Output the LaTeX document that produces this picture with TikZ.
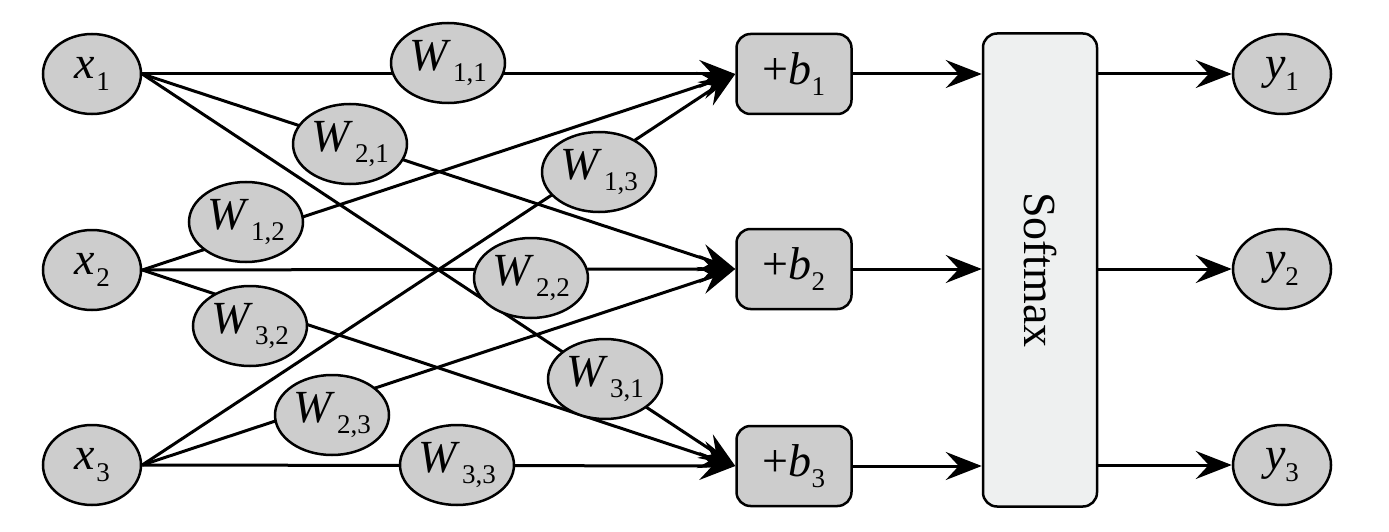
\documentclass[tikz,border=0pt]{standalone}
\usepackage{fontspec}
\setmainfont{Liberation Serif}
\usetikzlibrary{arrows.meta,shapes.geometric}
\definecolor{nodegray}{RGB}{205,205,205}
\definecolor{softfill}{RGB}{238,240,240}
\newcommand\mysub[1]{\raisebox{-0.25em}{\fontsize{27pt}{27pt}\selectfont #1}}
\newcommand\wl[1]{\textit{W}\kern2pt\mysub{#1}}
\begin{document}
\begin{tikzpicture}[x=1pt,y=-1pt,
  ell/.style={ellipse, draw, line width=2.5pt, fill=nodegray, minimum width=98pt,
    minimum height=80pt, inner sep=0pt, font=\fontsize{46pt}{46pt}\selectfont},
  wn/.style={ell, minimum width=114pt},
  bbox/.style={rectangle, rounded corners=14pt, draw, line width=2.5pt, fill=nodegray,
    minimum width=115pt, minimum height=80pt, inner sep=0pt, font=\fontsize{46pt}{46pt}\selectfont},
  softbox/.style={rectangle, rounded corners=14pt, draw, line width=2.5pt, fill=softfill,
    minimum width=114pt, minimum height=473pt, inner sep=0pt, font=\fontsize{46pt}{46pt}\selectfont},
  conn/.style={line width=3pt},
  arr/.style={conn, -{Stealth[length=36pt,width=28pt,inset=13pt]}}]
\useasboundingbox (0,0) rectangle (1389,532);

% inputs
\node[ell] (x1) at (92,74)  {\textit{x}\kern2pt\mysub{1}};
\node[ell] (x2) at (92,270) {\textit{x}\kern2pt\mysub{2}};
\node[ell] (x3) at (92,465) {\textit{x}\kern2pt\mysub{3}};

% bias boxes
\node[bbox] (b1) at (794,74)  {+\textit{b}\mysub{1}};
\node[bbox] (b2) at (794,269) {+\textit{b}\mysub{2}};
\node[bbox] (b3) at (794,466) {+\textit{b}\mysub{3}};

% softmax
\node[softbox] (sm) at (1040,270) {\rotatebox{-90}{Softmax}};

% outputs
\node[ell] (y1) at (1282,74)  {\textit{y}\mysub{1}};
\node[ell] (y2) at (1282,269) {\textit{y}\mysub{2}};
\node[ell] (y3) at (1282,465) {\textit{y}\mysub{3}};

% weighted connections
\foreach \i in {1,2,3}{
  \foreach \j in {1,2,3}{
    \draw[arr] (x\i.east) -- (b\j.west);
  }
}

% weight nodes on the connections
\node[wn] (W11) at (448,63)  {\wl{1,1}};
\node[wn] (W21) at (350,144) {\wl{2,1}};
\node[wn] (W31) at (605,379) {\wl{3,1}};
\node[wn] (W12) at (246,222) {\wl{1,2}};
\node[wn] (W22) at (531,278) {\wl{2,2}};
\node[wn] (W32) at (250,326) {\wl{3,2}};
\node[wn] (W13) at (599,172) {\wl{1,3}};
\node[wn] (W23) at (332,415) {\wl{2,3}};
\node[wn] (W33) at (457,465) {\wl{3,3}};

% bias -> softmax -> outputs
\foreach \k in {1,2,3}{
  \draw[arr] (b\k.east) -- (b\k.east -| sm.west);
  \draw[arr] (y\k.west -| sm.east) -- (y\k.west);
}
\end{tikzpicture}
\end{document}
